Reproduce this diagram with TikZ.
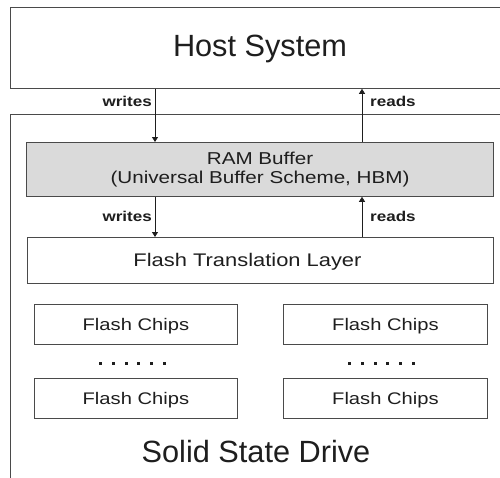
\documentclass[tikz,border=0pt]{standalone}
\usepackage{fontspec}
\setmainfont{Liberation Sans}
\newfontfamily\widesans[FakeStretch=1.2]{Liberation Sans}
\usetikzlibrary{arrows.meta}
\definecolor{edge}{HTML}{4A4A4A}
\definecolor{ink}{HTML}{1E1E1E}
\definecolor{buffer}{HTML}{DADADA}
\tikzset{
  box/.style={draw=edge, line width=0.8pt, rectangle, inner sep=0pt, anchor=north west},
  txt/.style={inner sep=0pt, text=ink, anchor=base},
  big/.style={txt, font=\fontsize{30.7}{36}\selectfont},
  mid/.style={txt, font=\widesans\fontsize{17.2}{20}\selectfont},
  chip/.style={txt, font=\widesans\fontsize{16.8}{20}\selectfont},
  flowlabel/.style={txt, font=\widesans\bfseries\fontsize{14.2}{17}\selectfont},
  flow/.style={draw=ink, line width=0.8pt, -{Triangle[width=6pt,length=5pt]}}
}
\begin{document}
\begin{tikzpicture}[x=1pt,y=-1pt]
\clip (0,0) rectangle (500,477);
\fill[white] (0,0) rectangle (500,477);

% host and drive enclosures
\node[box, minimum width=500pt, minimum height=81pt] (host) at (10,7) {};
\node[big] (hosttext) at (260,56) {Host System};
\node[box, minimum width=500pt, minimum height=400pt] (ssd) at (10,114) {};
\node[big] (ssdtext) at (256,462) {Solid State Drive};

% buffer and translation layer
\node[box, fill=buffer, minimum width=467pt, minimum height=54pt] (ram) at (26,142) {};
\node[mid] (ramline1) at (260,164) {RAM Buffer};
\node[mid] (ramline2) at (260,183.5) {(Universal Buffer Scheme, HBM)};
\node[box, minimum width=466pt, minimum height=46pt] (ftl) at (27,237) {};
\node[txt, font=\widesans\fontsize{18.25}{22}\selectfont] (ftltext) at (247.5,266.5) {Flash Translation Layer};

% flash chip arrays
\node[box, minimum width=203pt, minimum height=40pt] (chipA) at (34,304) {};
\node[box, minimum width=203pt, minimum height=40pt] (chipB) at (34,378) {};
\node[box, minimum width=204pt, minimum height=40pt] (chipC) at (283,304) {};
\node[box, minimum width=204pt, minimum height=40pt] (chipD) at (283,378) {};
\foreach \c in {chipA,chipB,chipC,chipD}
  \node[chip] at ([yshift=-6pt]\c.center) {Flash Chips};

% ellipsis dots between the chip rows
\foreach \i in {0,...,5} {
  \fill[ink] (99+\i*12.8,361.5) rectangle +(3,3);
  \fill[ink] (348+\i*12.8,361.5) rectangle +(3,3);
}

% data paths
\coordinate (wx) at (155,0);
\coordinate (rx) at (362,0);
\draw[flow] (host.south -| wx) -- (ram.north -| wx);
\draw[flow] (ram.north -| rx) -- (host.south -| rx);
\draw[flow] (ram.south -| wx) -- (ftl.north -| wx);
\draw[flow] (ftl.north -| rx) -- (ram.south -| rx);

\node[flowlabel, anchor=base east] (w1) at (152,106) {writes};
\node[flowlabel, anchor=base west] (r1) at (370,106) {reads};
\node[flowlabel, anchor=base east] (w2) at (152,221.5) {writes};
\node[flowlabel, anchor=base west] (r2) at (370,221.5) {reads};
\end{tikzpicture}
\end{document}
